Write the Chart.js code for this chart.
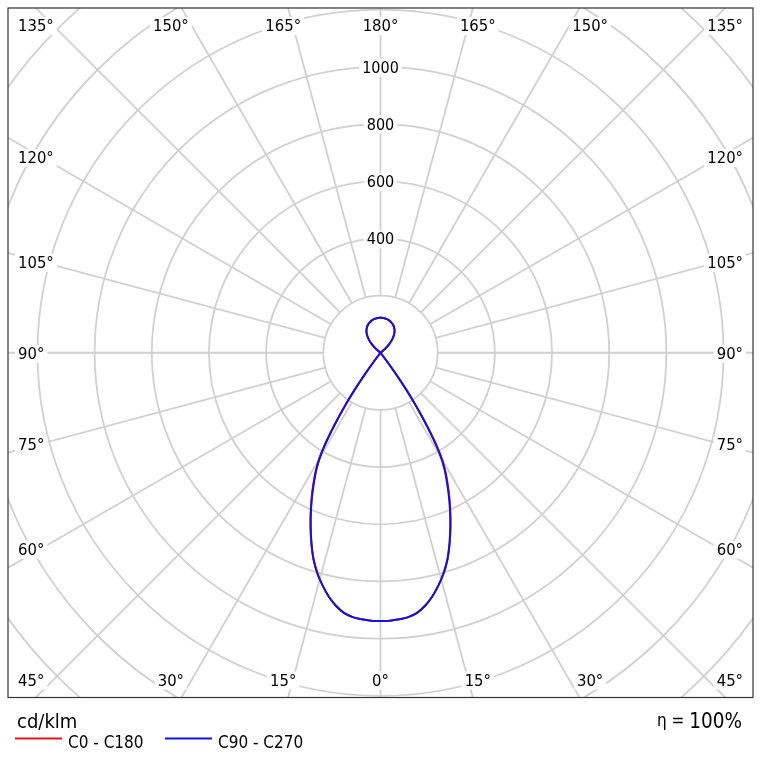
<!DOCTYPE html>
<html>
<head>
<meta charset="utf-8">
<script src="https://cdn.jsdelivr.net/npm/chart.js@4"></script>
<style>
  html, body { margin: 0; padding: 0; background: #fff; }
  #wrap { width: 760px; height: 767px; }
</style>
</head>
<body>
<div id="wrap"><canvas id="polar"></canvas></div>
<script>
// gamma angle in degrees, 0 = straight down, 180 = straight up
let gammaAngles = [0, 2, 4, 6, 8, 10, 12, 14, 16, 18, 20, 22, 24, 26, 28, 29, 30, 31, 32, 33, 34, 35, 36, 37, 38, 40, 50, 60, 70, 80, 90, 100, 110, 120, 125, 130, 135, 140, 145, 150, 155, 160, 165, 170, 175, 180];
// luminous intensity, cd/klm
let c0c180 = [938, 937, 934, 929, 918, 898, 871, 838, 802, 759, 708, 654, 600, 546, 492, 464, 432, 388, 334, 274, 216, 158, 97, 41, 4, 0, 0, 0, 0, 0, 0, 0, 0, 0, 0, 20, 45, 67, 85, 97, 106, 112, 117, 120, 122, 123];
let c90c270 = [938, 937, 934, 929, 918, 898, 871, 838, 801, 758, 706, 652, 597, 542, 487, 458, 425, 380, 325, 265, 208, 150, 90, 35, 0, 0, 0, 0, 0, 0, 0, 0, 0, 0, 0, 20, 45, 67, 85, 97, 106, 112, 117, 120, 122, 123];

let ringValues = [200, 400, 600, 800, 1000, 1200, 1400, 1600, 1800];
let ringLabels = ["400", "600", "800", "1000"];
let spokeAngles = [-165, -150, -135, -120, -105, -90, -75, -60, -45, -30, -15, 0, 15, 30, 45, 60, 75, 90, 105, 120, 135, 150, 165, 180];
let unitLabel = "cd/klm";
let etaLabel = "100%";
let seriesNames = ["C0 - C180", "C90 - C270"];
let seriesColors = ["#e3161c", "#1414d8"];

const FONT = "'DejaVu Sans Condensed', 'DejaVu Sans', sans-serif";

// polar -> cartesian, left half (C180 / C270) then right half (C0 / C90)
function toXY(values) {
    let pts = [];
    for (let i = gammaAngles.length - 1; i >= 0; i--) {
        let g = gammaAngles[i] * Math.PI / 180;
        pts.push({ x: -values[i] * Math.sin(g), y: -values[i] * Math.cos(g) });
    }
    for (let i = 0; i < gammaAngles.length; i++) {
        let g = gammaAngles[i] * Math.PI / 180;
        pts.push({ x: values[i] * Math.sin(g), y: -values[i] * Math.cos(g) });
    }
    return pts;
}

function labelBox(ctx, text, x, y, align) {
    let w = ctx.measureText(text).width;
    let left = align === "center" ? x - w / 2 : (align === "right" ? x - w : x);
    ctx.fillStyle = "#fff";
    ctx.fillRect(left - 3, y - 14, w + 6, 18);
    ctx.fillStyle = "#000";
    ctx.textAlign = align;
    ctx.fillText(text, x, y);
}

let polarGrid = {
    id: "polarGrid",
    beforeDatasetsDraw(chart) {
        let ctx = chart.ctx;
        let xs = chart.scales.x, ys = chart.scales.y;
        let area = chart.chartArea;
        let cx = xs.getPixelForValue(0), cy = ys.getPixelForValue(0);
        let k = (xs.getPixelForValue(100) - cx) / 100;

        ctx.save();
        ctx.beginPath();
        ctx.rect(area.left, area.top, area.right - area.left, area.bottom - area.top);
        ctx.clip();
        ctx.strokeStyle = "#d0d0d0";
        ctx.lineWidth = 1.8;

        ringValues.forEach(r => {
            ctx.beginPath();
            ctx.arc(cx, cy, r * k, 0, Math.PI * 2);
            ctx.stroke();
        });
        let inner = ringValues[0];
        spokeAngles.forEach(a => {
            let t = a * Math.PI / 180;
            let dx = Math.sin(t), dy = Math.cos(t);
            ctx.beginPath();
            ctx.moveTo(cx + dx * inner * k, cy + dy * inner * k);
            ctx.lineTo(cx + dx * 2200 * k, cy + dy * 2200 * k);
            ctx.stroke();
        });

        // ring values along the 180 spoke
        ctx.font = "16px " + FONT;
        ctx.textBaseline = "alphabetic";
        ringLabels.forEach(t => {
            let y = ys.getPixelForValue(Number(t));
            labelBox(ctx, t, cx, y + 6, "center");
        });

        // angle labels on the frame
        ctx.font = "16.5px " + FONT;
        spokeAngles.forEach(a => {
            let abs = Math.abs(a);
            let text = abs + "°";
            let side = a < 0 ? -1 : 1;
            let t = abs * Math.PI / 180;
            if (abs === 45 || abs === 135) {
                let y = abs === 45 ? area.bottom - 12 : area.top + 23;
                if (side < 0) labelBox(ctx, text, area.left + 10, y, "left");
                else labelBox(ctx, text, area.right - 10, y, "right");
            } else if (abs < 45) {
                let x = xs.getPixelForValue(side * 1270 * Math.tan(t));
                labelBox(ctx, text, x, area.bottom - 12, "center");
            } else if (abs > 135) {
                let x = xs.getPixelForValue(side * 1270 * Math.tan(Math.PI - t));
                labelBox(ctx, text, x, area.top + 23, "center");
            } else {
                let y = ys.getPixelForValue(-1186 * Math.cos(t) / Math.sin(t));
                if (side < 0) labelBox(ctx, text, area.left + 10, y + 6, "left");
                else labelBox(ctx, text, area.right - 10, y + 6, "right");
            }
        });
        ctx.restore();
    },
    afterDraw(chart) {
        let ctx = chart.ctx;
        let area = chart.chartArea;
        ctx.save();
        ctx.strokeStyle = "#333";
        ctx.lineWidth = 1.2;
        ctx.strokeRect(area.left, area.top, area.right - area.left, area.bottom - area.top);

        ctx.fillStyle = "#000";
        ctx.textBaseline = "alphabetic";
        ctx.font = "20px " + FONT;
        ctx.textAlign = "left";
        ctx.fillText(unitLabel, 17, area.bottom + 30);

        // eta
        ctx.textAlign = "right";
        ctx.font = "20.5px " + FONT;
        ctx.fillText(etaLabel, 742, area.bottom + 30);
        let w = ctx.measureText(etaLabel).width;
        ctx.font = "17px " + FONT;
        ctx.fillText("η = ", 742 - w, area.bottom + 28);

        // legend
        ctx.font = "17px " + FONT;
        ctx.textAlign = "left";
        let lx = [15, 165];
        seriesNames.forEach((name, i) => {
            ctx.strokeStyle = seriesColors[i];
            ctx.lineWidth = 2;
            ctx.beginPath();
            ctx.moveTo(lx[i], area.bottom + 41);
            ctx.lineTo(lx[i] + 47, area.bottom + 41);
            ctx.stroke();
            ctx.fillStyle = "#000";
            ctx.fillText(name, lx[i] + 53, area.bottom + 50);
        });
        ctx.restore();
    }
};

let chartInstance = new Chart(document.getElementById("polar"), {
    type: "scatter",
    data: {
        datasets: [
            { label: seriesNames[1], data: toXY(c90c270), borderColor: seriesColors[1], borderWidth: 2, showLine: true, pointRadius: 0, tension: 0.3, order: 1 },
            { label: seriesNames[0], data: toXY(c0c180), borderColor: seriesColors[0], borderWidth: 2, showLine: true, pointRadius: 0, tension: 0.3, order: 2 }
        ]
    },
    options: {
        responsive: true,
        maintainAspectRatio: false,
        animation: false,
        layout: { padding: { left: 8, right: 7, top: 8, bottom: 69.5 } },
        scales: {
            x: { type: "linear", min: -1303, max: 1303, display: false },
            y: { type: "linear", min: -1205, max: 1205, display: false }
        },
        plugins: {
            legend: { display: false },
            tooltip: { enabled: false }
        }
    },
    plugins: [polarGrid]
});
</script>
</body>
</html>
